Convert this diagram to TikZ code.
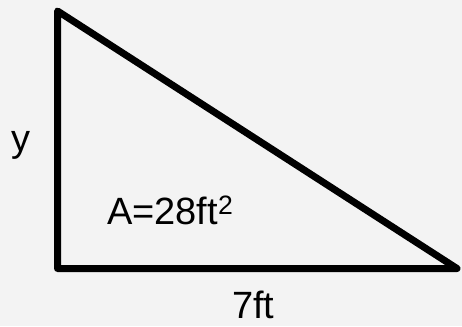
\documentclass[tikz,border=0pt]{standalone}
\usepackage{fontspec}
\setmainfont{Liberation Sans}
\definecolor{bgc}{HTML}{F3F3F3}
\begin{document}
\begin{tikzpicture}[x=1pt,y=-1pt,
  edge/.style={line width=7pt,line join=round,line cap=round},
  lbl/.style={inner sep=0pt,anchor=base west,font=\fontsize{38}{40}\selectfont}]
\fill[bgc] (0,0) rectangle (462,326);
\useasboundingbox (0,0) rectangle (462,326);
\coordinate (top) at (57.5,11);
\coordinate (bl) at (57.5,268.5);
\coordinate (br) at (457,268.5);
\draw[edge] (top) -- (bl) -- (br) -- cycle;
\node[lbl] (ylab) at (11,151) {y};
\node[lbl] (area) at (107,224) {A=28ft\textsuperscript{2}};
\node[lbl] (base) at (232,318) {7ft};
\end{tikzpicture}
\end{document}
